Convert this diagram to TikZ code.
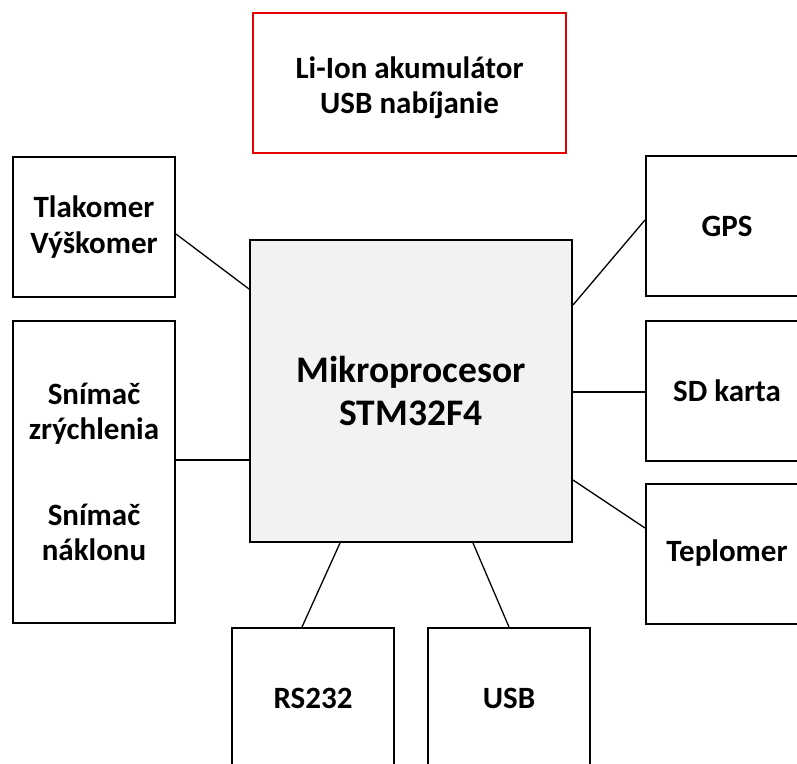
\documentclass[tikz,border=0pt]{standalone}
\usepackage{fontspec}
\setmainfont{Carlito}
\begin{document}
\begin{tikzpicture}[x=1pt,y=-1pt,
  box/.style={draw=black,line width=2pt,minimum width=162pt,minimum height=140pt,inner sep=0pt,align=center,font=\fontsize{31}{35.5}\selectfont\bfseries},
  conn/.style={draw=black,line width=1.3pt}]
\clip (0,0) rectangle (797,763);
\fill[white] (0,0) rectangle (797,763);
\node[box,draw={rgb,255:red,230;green,0;blue,0},minimum width=313pt,minimum height=140pt,
  label={[align=center,font=\fontsize{31}{35}\selectfont\bfseries,yshift=-5pt]center:{Li-Ion akumulátor\\USB nabíjanie}}] (bat) at (409.5,83) {};
\node[box,fill={rgb,255:red,242;green,242;blue,242},minimum width=322pt,minimum height=302pt,font=\fontsize{37.5}{43}\selectfont\bfseries] (mcu) at (411,391) {Mikroprocesor\\STM32F4};
\node[box] (tlak) at (94,227) {Tlakomer\\Výškomer};
\node[box,minimum height=302pt] (snim) at (94,472) {Snímač\\zrýchlenia\\[50pt]Snímač\\náklonu};
\node[box] (gps) at (727,226) {GPS};
\node[box] (sd) at (727,391) {SD karta};
\node[box] (tep) at (727,553.5) {Teplomer};
\node[box] (rs) at (313,698) {RS232};
\node[box] (usb) at (509,698) {USB};
\draw[conn] (tlak.east |- 0,234) -- (mcu.west |- 0,289);
\draw[conn] (snim.east |- 0,460) -- (mcu.west |- 0,460);
\draw[conn] (gps.west |- 0,220) -- (mcu.east |- 0,305);
\draw[conn] (sd.west |- 0,392) -- (mcu.east |- 0,392);
\draw[conn] (tep.west |- 0,528) -- (mcu.east |- 0,480);
\draw[conn] (rs.north -| 302,0) -- (mcu.south -| 340,0);
\draw[conn] (usb.north -| 509,0) -- (mcu.south -| 473,0);
\end{tikzpicture}
\end{document}
